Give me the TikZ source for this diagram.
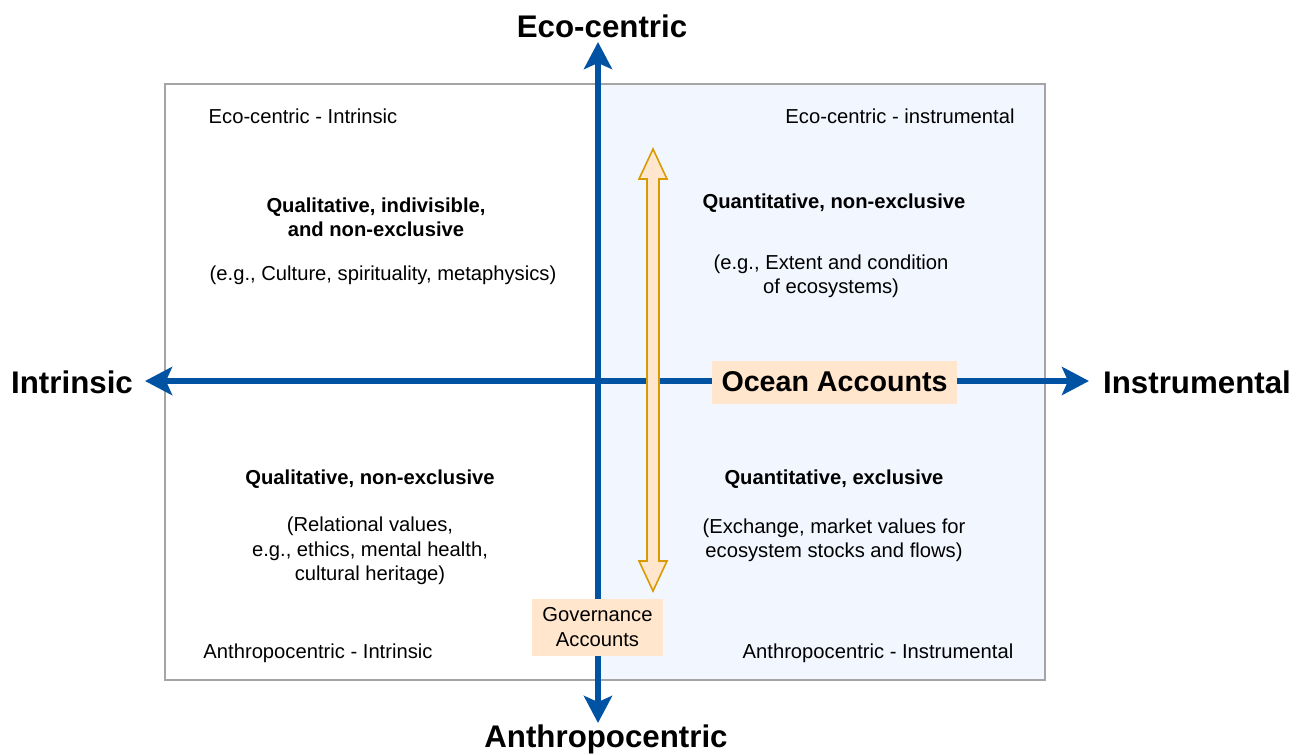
\documentclass[tikz,border=0pt]{standalone}
\usepackage{fontspec}
\setmainfont{Liberation Sans}
\usetikzlibrary{arrows.meta}
\definecolor{axisblue}{RGB}{0,82,163}
\definecolor{peach}{RGB}{255,230,204}
\definecolor{amber}{RGB}{215,155,0}
\definecolor{paleblue}{RGB}{242,246,255}
\definecolor{framegray}{RGB}{165,165,165}

\begin{document}
\begin{tikzpicture}[
            x = 0.02cm, y = -0.02cm,
            axistip/.tip = {Stealth[length=0.54cm, width=0.56cm, inset=0.12cm]},
            axis/.style = {draw=axisblue, line width=3.2pt, axistip-axistip},
            axislabel/.style = {font=\fontsize{17.8}{20}\selectfont\bfseries, inner sep=0pt},
            quadtitle/.style = {font=\fontsize{11.5}{13.8}\selectfont, inner sep=0pt},
            quadhead/.style = {font=\fontsize{11.5}{13.8}\selectfont\bfseries, inner sep=0pt, align=center},
            quadtext/.style = {font=\fontsize{11.5}{13.8}\selectfont, inner sep=0pt, align=center},
            accountbox/.style = {fill=peach, inner sep=0pt, align=center}
        ]
        \useasboundingbox (0,0) rectangle (1304,754);

        % quadrant frame, instrumental half shaded
        \fill[paleblue] (598,84) rectangle (1045,680);
        \draw[framegray, line width=0.8pt] (165,84) rectangle (1045,680);

        % axes
        \coordinate (top) at (598,42);
        \coordinate (bottom) at (598,723);
        \coordinate (left) at (145,381);
        \coordinate (right) at (1089,381);
        \draw[axis] (bottom) -- (top);
        \draw[axis] (left) -- (right);

        \node[axislabel] (eco) at (602,26) {Eco-centric};
        \node[axislabel] (anthro) at (606,739) {Anthropocentric};
        \node[axislabel] (intr) at (72,382) {Intrinsic};
        \node[axislabel] (instr) at (1197,382) {Instrumental};

        % governance range
        \draw[amber, fill=peach, line width=0.9pt, line join=miter]
            (653,149) -- (667,179) -- (659,179) -- (659,561) -- (667,561) -- (653,591)
            -- (639,561) -- (647,561) -- (647,179) -- (639,179) -- cycle;

        \node[accountbox, minimum width=4.9cm, minimum height=0.86cm,
              font=\fontsize{16.3}{19}\selectfont\bfseries] (ocean) at (834.5,382) {Ocean Accounts};
        \node[accountbox, minimum width=2.62cm, minimum height=1.14cm,
              font=\fontsize{11.5}{13.8}\selectfont] (gov) at (597.5,627) {Governance\\Accounts};

        % quadrants
        \node[quadtitle] (ecointr) at (303,116) {Eco-centric - Intrinsic};
        \node[quadtitle] (ecoinst) at (900,116) {Eco-centric - instrumental};
        \node[quadtitle] (antintr) at (318,653) {Anthropocentric - Intrinsic};
        \node[quadtitle] (antinst) at (878,653) {Anthropocentric - Instrumental};

        \node[quadhead] (qualind) at (376,217) {Qualitative, indivisible,\\and non-exclusive};
        \node[quadtext] (culture) at (383,275) {(e.g., Culture, spirituality, metaphysics)};
        \node[quadhead] (quantnon) at (834,203) {Quantitative, non-exclusive};
        \node[quadtext] (extent) at (831,276) {(e.g., Extent and condition\\of ecosystems)};
        \node[quadhead] (qualnon) at (370,479) {Qualitative, non-exclusive};
        \node[quadtext] (relational) at (370,551) {(Relational values,\\e.g., ethics, mental health,\\cultural heritage)};
        \node[quadhead] (quantex) at (834,479) {Quantitative, exclusive};
        \node[quadtext] (exchange) at (834,540) {(Exchange, market values for\\ecosystem stocks and flows)};
    \end{tikzpicture}
\end{document}
